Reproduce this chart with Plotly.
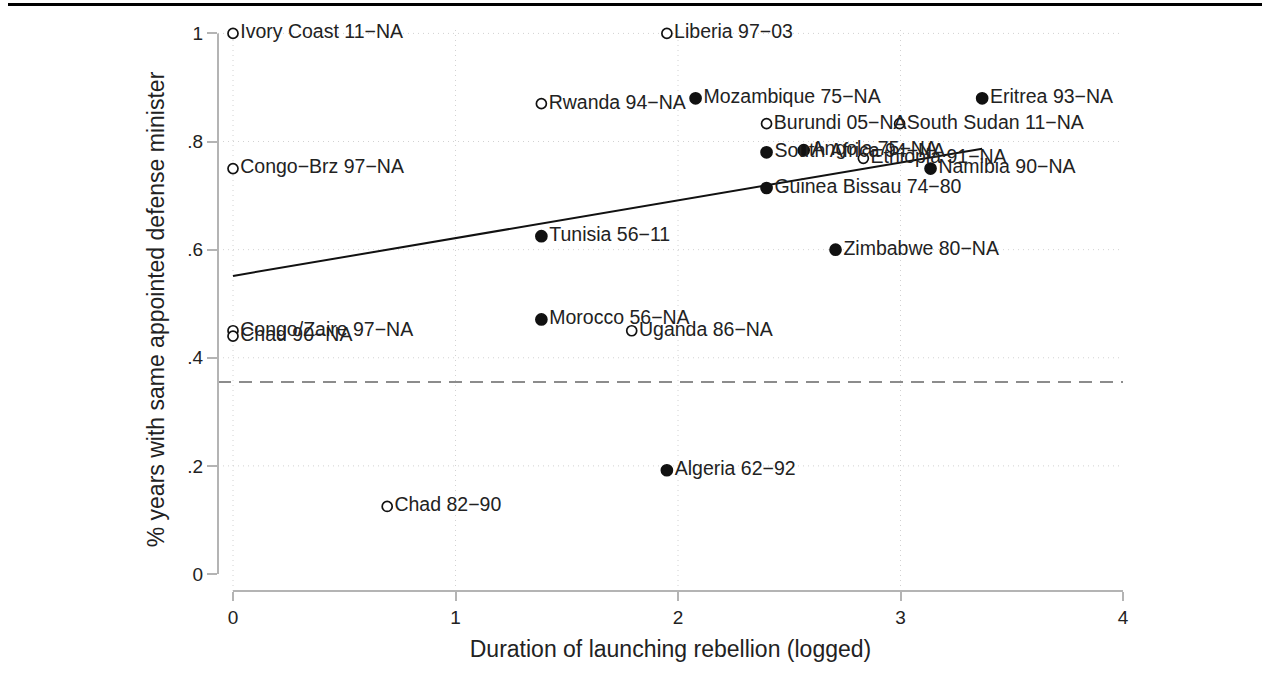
import numpy as np
import plotly.graph_objects as go

# ---------------- data ----------------
labels = [
    "Ivory Coast 11\u2212NA", "Liberia 97\u221203", "Rwanda 94\u2212NA", "Mozambique 75\u2212NA",
    "Eritrea 93\u2212NA", "Burundi 05\u2212NA", "South Sudan 11\u2212NA", "South Africa 94\u2212NA",
    "Angola 75\u2212NA", "Ethiopia 91\u2212NA", "Namibia 90\u2212NA", "Congo\u2212Brz 97\u2212NA",
    "Guinea Bissau 74\u221280", "Tunisia 56\u221211", "Zimbabwe 80\u2212NA", "Morocco 56\u2212NA",
    "Uganda 86\u2212NA", "Congo/Zaire 97\u2212NA", "Chad 90\u2212NA", "Algeria 62\u221292",
    "Chad 82\u221290",
]
duration_log = [
    0.0, 1.95, 1.386, 2.079,
    3.367, 2.398, 2.996, 2.398,
    2.565, 2.833, 3.135, 0.0,
    2.398, 1.386, 2.708, 1.386,
    1.792, 0.0, 0.0, 1.95,
    0.693,
]
share_same_minister = [
    1.0, 1.0, 0.87, 0.88,
    0.88, 0.833, 0.833, 0.78,
    0.784, 0.769, 0.75, 0.75,
    0.714, 0.625, 0.60, 0.471,
    0.45, 0.45, 0.44, 0.192,
    0.125,
]
# 1 = filled marker, 0 = hollow marker
filled = [
    0, 0, 0, 1,
    1, 0, 0, 1,
    1, 0, 1, 0,
    1, 1, 1, 1,
    0, 0, 0, 1,
    0,
]
reference_level = 0.355

x_ticks = [0, 1, 2, 3, 4]
x_ticktext = ["0", "1", "2", "3", "4"]
y_ticks = [0, 0.2, 0.4, 0.6, 0.8, 1.0]
y_ticktext = ["0", ".2", ".4", ".6", ".8", "1"]
x_grid = [0, 1, 2, 3]
y_grid = [0.2, 0.4, 0.6, 0.8, 1.0]

# ---------------- layout constants ----------------
W, H = 1269, 676
L, R, T, B = 218, 146, 28, 85
X_RANGE = [-0.0674, 4.0]
Y_RANGE = [-0.0314, 1.01]
FONT = "Liberation Sans, Arial, Helvetica, sans-serif"
TXT = "#222222"
AXIS_GRAY = "#b4b4b4"
GRID_GRAY = "#d2d2d2"

xs = np.array(duration_log)
ys = np.array(share_same_minister)
fl = np.array(filled)

fig = go.Figure()

# fitted line (OLS)
slope, intercept = np.polyfit(xs, ys, 1)
xf = np.array([xs.min(), xs.max()])
fig.add_trace(go.Scatter(x=xf, y=intercept + slope * xf, mode="lines",
                         line=dict(color="#111111", width=2), hoverinfo="skip",
                         showlegend=False))

for flag in (0, 1):
    m = fl == flag
    fig.add_trace(go.Scatter(
        x=xs[m], y=ys[m], mode="markers+text",
        text=[labels[i] for i in np.where(m)[0]],
        textposition="middle right",
        textfont=dict(family=FONT, size=19.5, color=TXT),
        marker=dict(symbol="circle", size=10 if flag == 0 else 11,
                    color="white" if flag == 0 else "#111111",
                    line=dict(color="#111111", width=1.7)),
        cliponaxis=False, hoverinfo="skip", showlegend=False,
    ))

shapes = []
for gx in x_grid:
    shapes.append(dict(type="line", xref="x", yref="paper", x0=gx, x1=gx, y0=0, y1=1,
                       line=dict(color=GRID_GRAY, width=1, dash="1px,4px"), layer="below"))
for gy in y_grid:
    shapes.append(dict(type="line", xref="paper", yref="y", x0=0, x1=1, y0=gy, y1=gy,
                       line=dict(color=GRID_GRAY, width=1, dash="1px,4px"), layer="below"))
# reference dashed line
shapes.append(dict(type="line", xref="paper", yref="y", x0=0, x1=1,
                   y0=reference_level, y1=reference_level,
                   line=dict(color="#8c8c8c", width=2, dash="13px,8px"), layer="below"))
# offset axis lines (Stata style)
shapes.append(dict(type="line", xref="paper", yref="y", x0=0, x1=0,
                   y0=min(y_ticks), y1=max(y_ticks), line=dict(color=AXIS_GRAY, width=2)))
shapes.append(dict(type="line", xref="x", yref="paper", x0=min(x_ticks), x1=max(x_ticks),
                   y0=0, y1=0, line=dict(color=AXIS_GRAY, width=2)))
# top rule across the page
pw, ph = W - L - R, H - T - B
shapes.append(dict(type="line", xref="paper", yref="paper",
                   x0=(8 - L) / pw, x1=(1262 - L) / pw,
                   y0=(H - B - 4.5) / ph, y1=(H - B - 4.5) / ph,
                   line=dict(color="black", width=3)))

fig.update_layout(
    width=W, height=H,
    margin=dict(l=L, r=R, t=T, b=B),
    paper_bgcolor="white", plot_bgcolor="white",
    font=dict(family=FONT, color=TXT),
    shapes=shapes,
    hovermode=False,
    xaxis=dict(range=X_RANGE, tickvals=x_ticks, ticktext=x_ticktext,
               showgrid=False, zeroline=False, showline=False,
               ticks="outside", ticklen=9, tickwidth=1.5, tickcolor=AXIS_GRAY,
               tickfont=dict(family=FONT, size=19, color=TXT),
               title=dict(text="Duration of launching rebellion (logged)",
                          font=dict(family=FONT, size=23, color=TXT), standoff=14)),
    yaxis=dict(range=Y_RANGE, tickvals=y_ticks, ticktext=y_ticktext,
               showgrid=False, zeroline=False, showline=False,
               ticks="outside", ticklen=10, tickwidth=1.5, tickcolor=AXIS_GRAY,
               tickfont=dict(family=FONT, size=19, color=TXT),
               title=dict(text="% years with same appointed defense minister",
                          font=dict(family=FONT, size=23, color=TXT), standoff=16)),
)

fig.write_html("out.html",
               config={"displayModeBar": False},
               post_script="document.body.style.margin='0px';document.body.style.padding='0px';")
